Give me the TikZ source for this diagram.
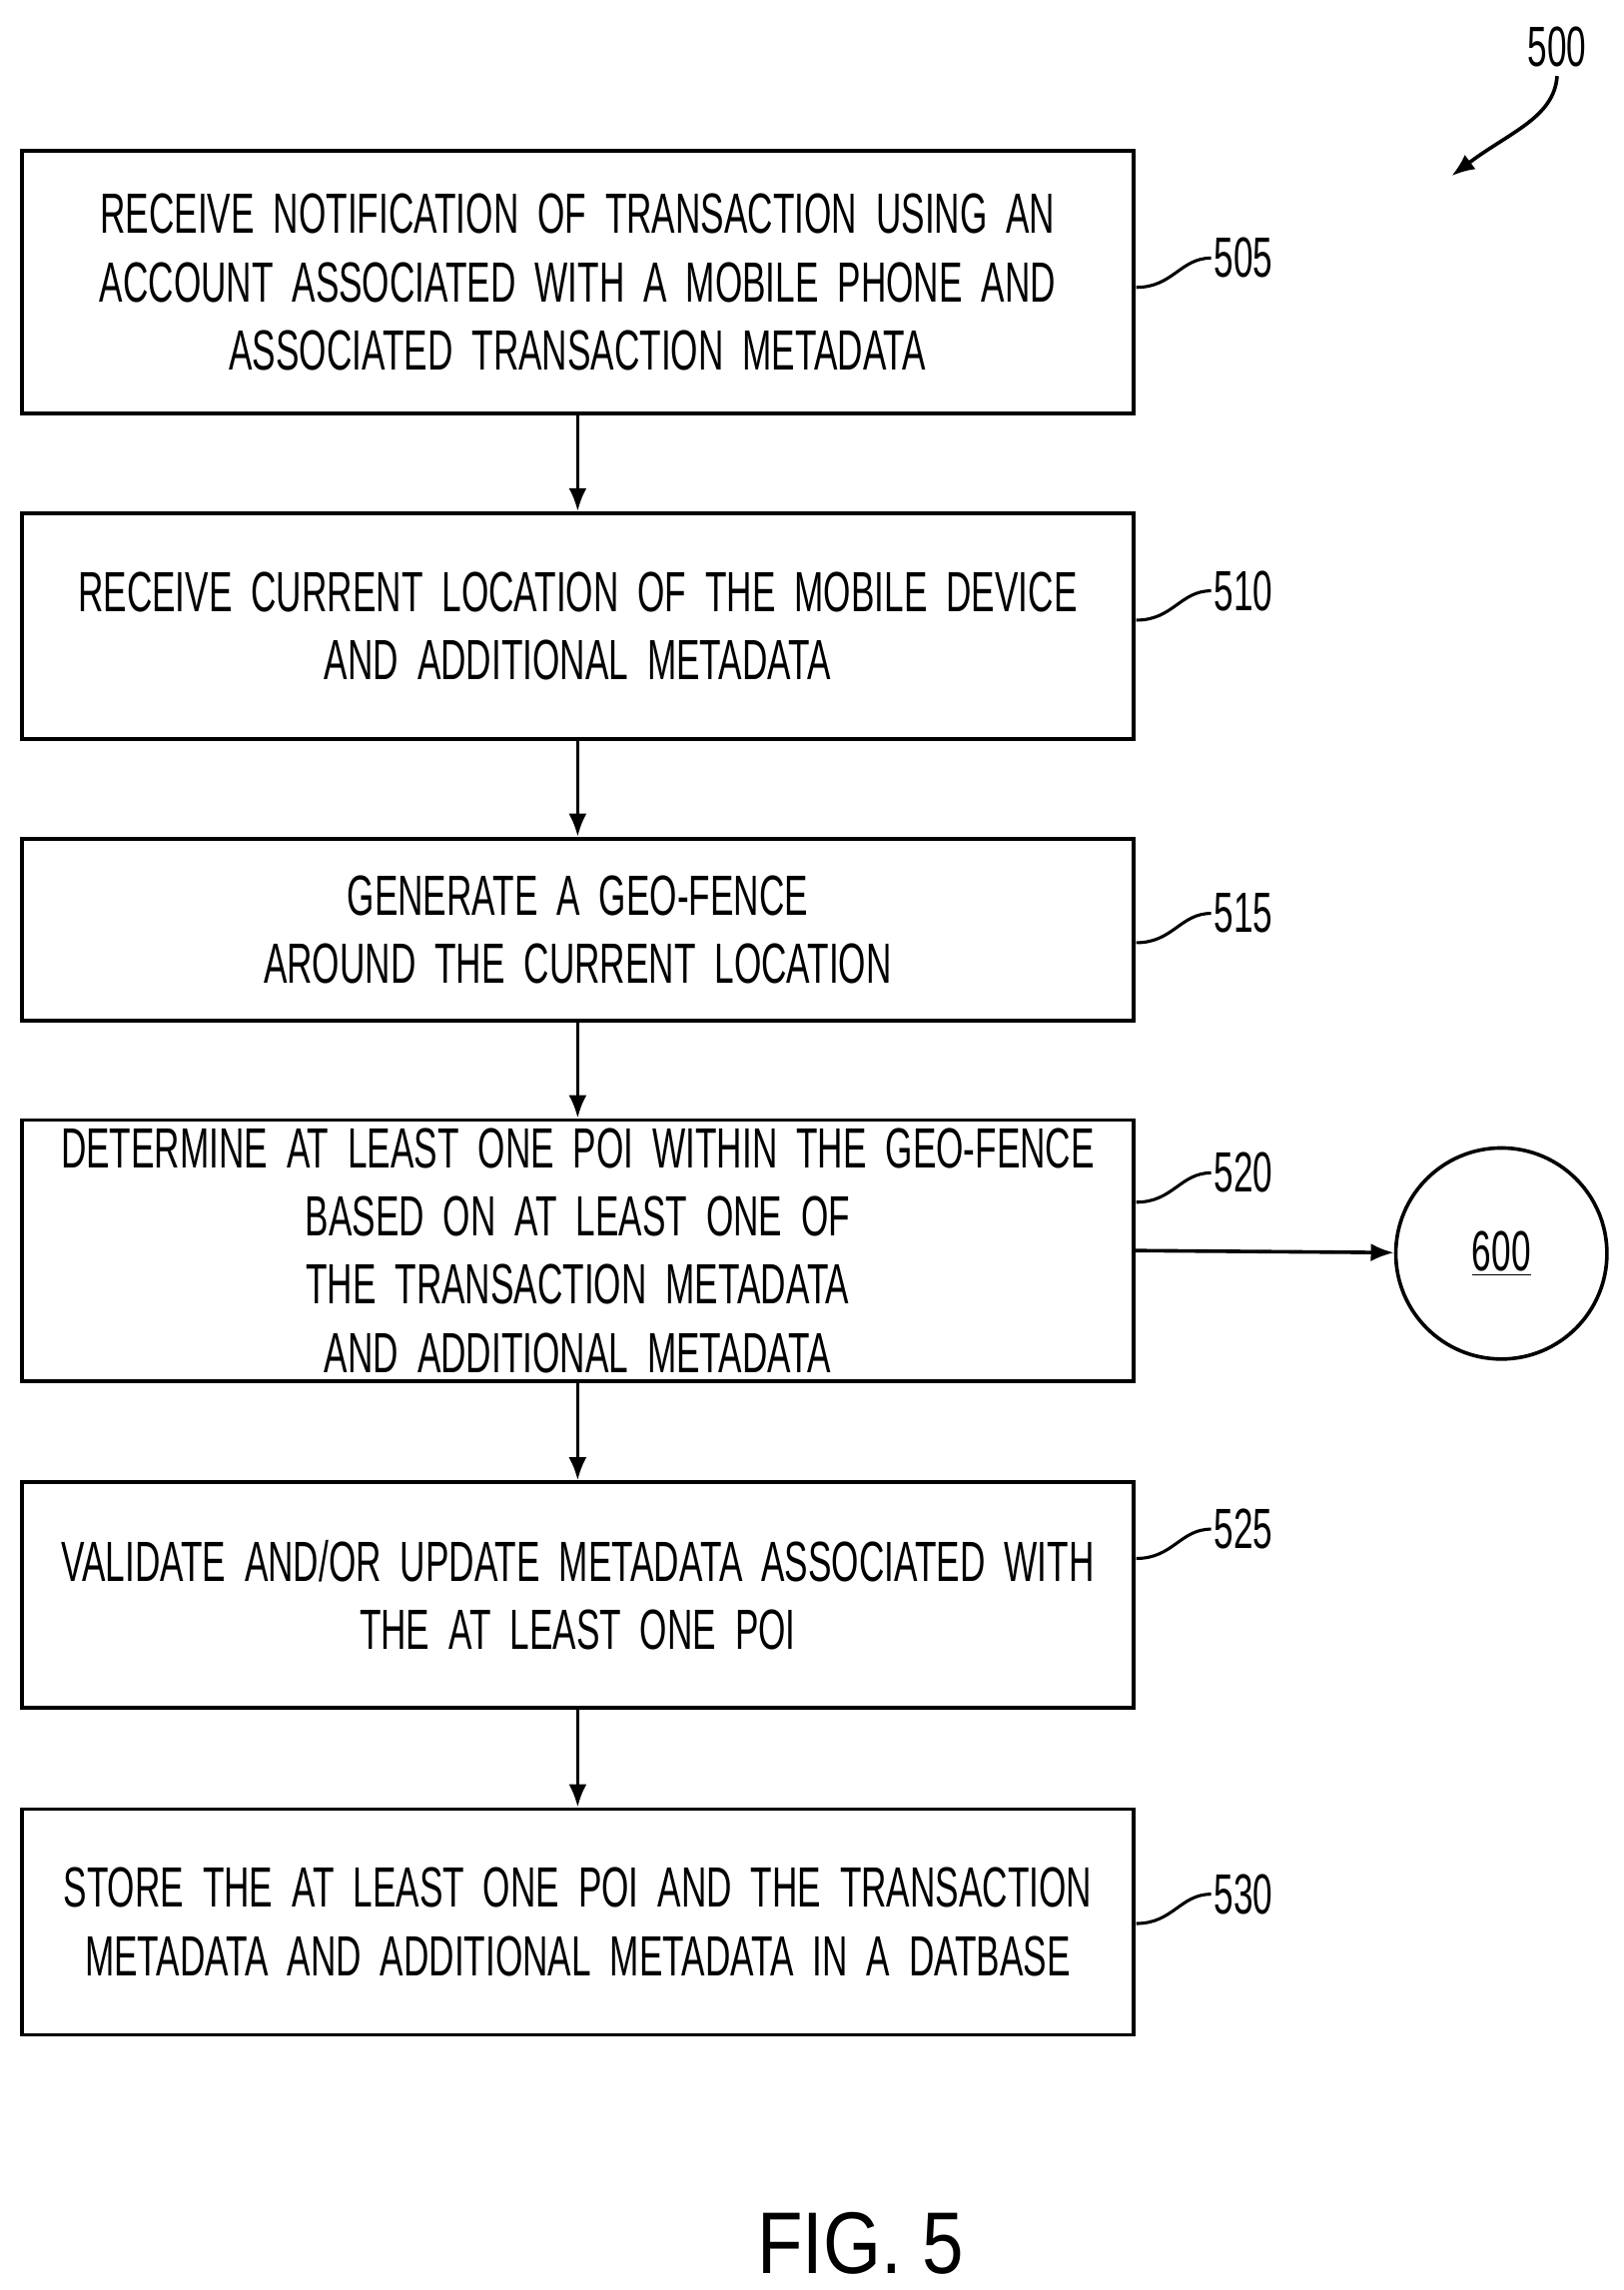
\documentclass[tikz,border=0pt]{standalone}
\usepackage{fontspec}
\setmainfont{Liberation Sans}
\newfontfamily\cond[FakeStretch=0.62,WordSpace=0.45]{Liberation Sans}
\newfontfamily\condb[FakeStretch=0.85]{Liberation Sans}
\usetikzlibrary{arrows.meta}
\begin{document}
\begin{tikzpicture}[x=0.02cm,y=-0.02cm,
  box/.style={draw,line width=1.4pt,minimum width=758*0.02cm,text width=740*0.02cm,align=center,
    font=\cond\fontsize{22pt}{26.5pt}\selectfont,inner sep=0pt},
  lab/.style={font=\cond\fontsize{22pt}{26pt}\selectfont,anchor=west,inner sep=1pt},
  arr/.style={-{Latex[length=9pt,width=7pt]},line width=1.4pt},
  lead/.style={line width=1.2pt}]
\useasboundingbox (0,0) rectangle (1107,1562);
\node[box,minimum height=179*0.02cm] (b1) at (394,192.5) {RECEIVE NOTIFICATION OF TRANSACTION USING AN\\ACCOUNT ASSOCIATED WITH A MOBILE PHONE AND\\ASSOCIATED TRANSACTION METADATA};
\node[box,minimum height=154*0.02cm] (b2) at (394,427) {RECEIVE CURRENT LOCATION OF THE MOBILE DEVICE\\AND ADDITIONAL METADATA};
\node[box,minimum height=124*0.02cm] (b3) at (394,634) {GENERATE A GEO-FENCE AROUND THE CURRENT LOCATION};
\node[box,minimum height=178*0.02cm] (b4) at (394,853) {DETERMINE AT LEAST ONE POI WITHIN THE GEO-FENCE\\BASED ON AT LEAST ONE OF THE TRANSACTION METADATA\\AND ADDITIONAL METADATA};
\node[box,minimum height=154*0.02cm] (b5) at (394,1088) {VALIDATE AND/OR UPDATE METADATA ASSOCIATED WITH\\THE AT LEAST ONE POI};
\node[box,minimum height=154*0.02cm] (b6) at (394,1311) {STORE THE AT LEAST ONE POI AND THE TRANSACTION\\METADATA AND ADDITIONAL METADATA IN A DATBASE};
\node[draw,circle,line width=1.4pt,minimum size=144*0.02cm,font=\cond\fontsize{22pt}{26pt}\selectfont] (c) at (1024,855) {\underline{600}};
\draw[arr] (b1)--(b2);
\draw[arr] (b2)--(b3);
\draw[arr] (b3)--(b4);
\draw[arr] (b4)--(b5);
\draw[arr] (b5)--(b6);
\draw[arr] (b4.east)--(c);
\foreach \n/\t/\y in {1/505/176,2/510/403,3/515/623,4/520/800,5/525/1043,6/530/1292}{
  \node[lab] (l\n) at (826,\y) {\t};
  \coordinate (e\n) at (775,\y+20);
  \draw[lead] (e\n) .. controls (800,\y+20) and (805,\y) .. (l\n.west);
}
\node[font=\cond\fontsize{22pt}{26pt}\selectfont] (n500) at (1062,32) {500};
\coordinate (t500) at (990,120);
\draw[arr] (n500.south) .. controls (1060,80) and (1030,90) .. (t500);
\node[font=\condb\fontsize{34pt}{40pt}\selectfont] (fig) at (587,1530) {FIG. 5};
\end{tikzpicture}
\end{document}
